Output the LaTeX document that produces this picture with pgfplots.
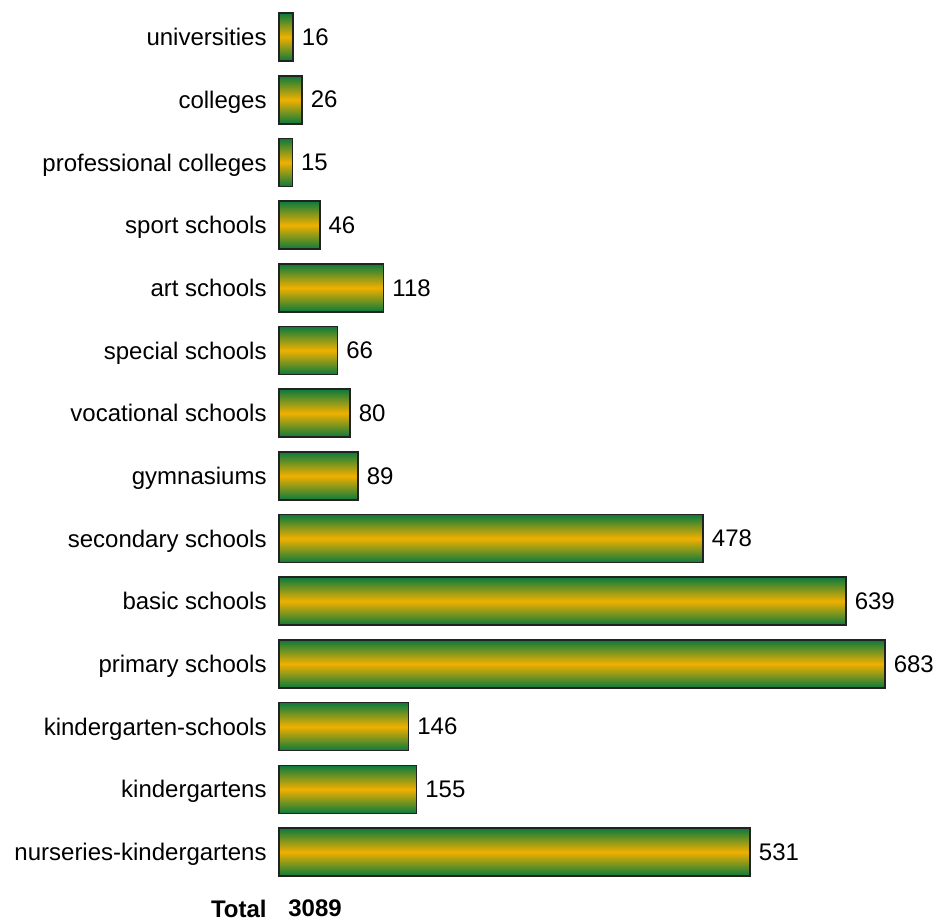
\documentclass[border=0pt]{standalone}
\usepackage{fontspec}
\setmainfont{Liberation Sans}
\usepackage{pgfplots}
\pgfplotsset{compat=1.18}
\definecolor{barG}{HTML}{0A7A3C}
\definecolor{barY}{HTML}{F0B000}
\definecolor{edge}{HTML}{222222}
\begin{document}
\begin{tikzpicture}
\useasboundingbox (0,0) rectangle (468.5pt,460.5pt);
\begin{axis}[
  at={(139.5pt,18.8pt)}, anchor=south west,
  scale only axis, width=303pt, height=438.85pt,
  xbar, bar width=24pt, bar shift=0pt,
  xmin=0, xmax=683, ymin=-0.5, ymax=13.5,
  clip=false,
  axis line style={draw=none},
  xtick=\empty,
  ytick={0,...,13},
  major tick length=0pt,
  ytick style={draw=none},
  yticklabels={nurseries-kindergartens,kindergartens,kindergarten-schools,primary schools,basic schools,secondary schools,gymnasiums,vocational schools,special schools,art schools,sport schools,professional colleges,colleges,universities},
  y tick label style={font=\fontsize{12}{14}\selectfont, inner sep=0pt, anchor=east, xshift=-6pt, text height=8.6pt, text depth=0pt},
  /pgf/number format/assume math mode=true,
  point meta=x,
  nodes near coords,
  nodes near coords align={horizontal},
  every node near coord/.append style={font=\fontsize{12}{14}\selectfont, inner sep=0pt, anchor=west, xshift=4pt, text=black},
  barstyle/.style={draw=edge, line width=0.8pt, top color=barG, bottom color=barG, middle color=barY},
]
\addplot[barstyle] coordinates {(531,0)};
\addplot[barstyle] coordinates {(155,1)};
\addplot[barstyle] coordinates {(146,2)};
\addplot[barstyle] coordinates {(683,3)};
\addplot[barstyle] coordinates {(639,4)};
\addplot[barstyle] coordinates {(478,5)};
\addplot[barstyle] coordinates {(89,6)};
\addplot[barstyle] coordinates {(80,7)};
\addplot[barstyle] coordinates {(66,8)};
\addplot[barstyle] coordinates {(118,9)};
\addplot[barstyle] coordinates {(46,10)};
\addplot[barstyle] coordinates {(15,11)};
\addplot[barstyle] coordinates {(26,12)};
\addplot[barstyle] coordinates {(16,13)};
\node[anchor=east, inner sep=0pt, xshift=-6pt, font=\fontsize{12}{14}\selectfont\bfseries] at (axis cs:0,-0.9) {Total};
\node[anchor=west, inner sep=0pt, xshift=4.5pt, font=\fontsize{12}{14}\selectfont\bfseries] at (axis cs:0,-0.9) {3089};
\end{axis}
\end{tikzpicture}
\end{document}
